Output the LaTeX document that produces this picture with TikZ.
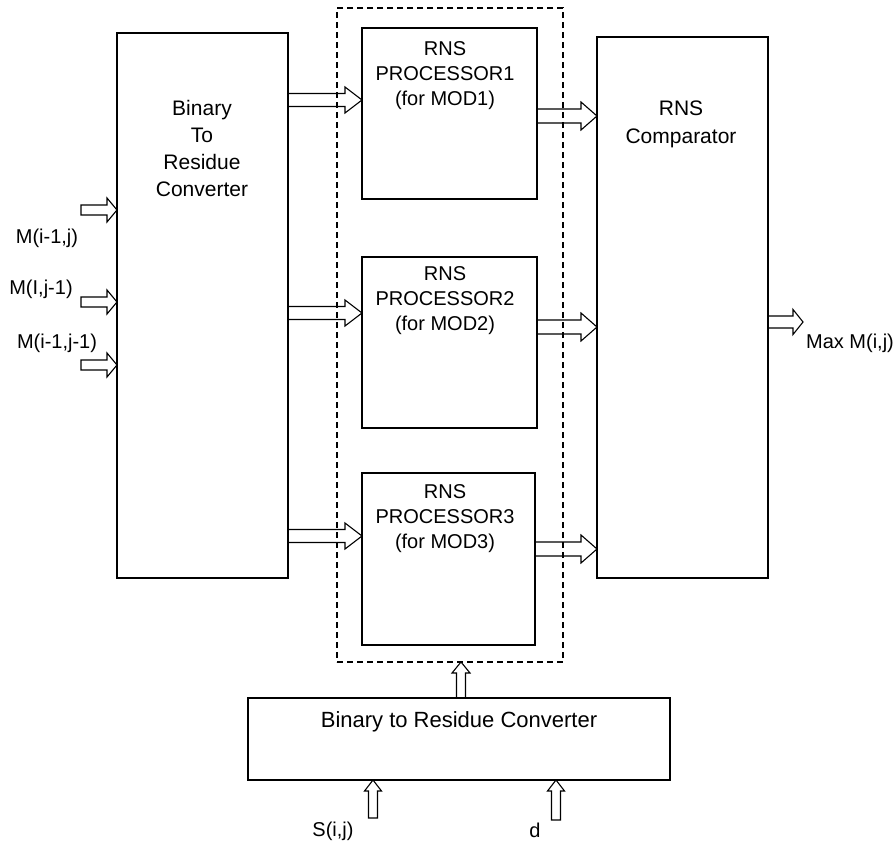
\documentclass[tikz,border=0pt]{standalone}
\usepackage{fontspec}
\setmainfont{Liberation Sans}
\usetikzlibrary{calc}
\newcommand\harr[5]{% start, end, shaft half, head half, head length
  \draw[fat] let \p1=(#1), \p2=(#2) in
    (\x1,\y1+#3) -- (\x2-#5,\y1+#3) -- (\x2-#5,\y1+#4) -- (\x2,\y1)
    -- (\x2-#5,\y1-#4) -- (\x2-#5,\y1-#3) -- (\x1,\y1-#3) -- cycle;}
\newcommand\varr[5]{% start (bottom), end (top), shaft half, head half, head length
  \draw[fat] let \p1=(#1), \p2=(#2) in
    (\x1-#3,\y1) -- (\x1-#3,\y2-#5) -- (\x1-#4,\y2-#5) -- (\x1,\y2)
    -- (\x1+#4,\y2-#5) -- (\x1+#3,\y2-#5) -- (\x1+#3,\y1) -- cycle;}
\begin{document}
\begin{tikzpicture}[x=1pt,y=-1pt,
  box/.style={draw, line width=1.3pt, inner sep=0pt, outer sep=0pt, anchor=north west},
  txt/.style={font=\fontsize{20}{25}\selectfont, align=center, inner sep=0pt, text=black},
  fat/.style={draw, line width=1.1pt, line join=miter}]
\useasboundingbox (0,0) rectangle (896,846);
% boxes
\node[box, minimum width=171pt, minimum height=545pt] (lb) at (117,33) {};
\node[box, dashed, dash pattern=on 6pt off 4pt, line width=1.2pt, minimum width=226pt, minimum height=654pt] (db) at (337,8) {};
\node[box, minimum width=175pt, minimum height=171pt] (p1) at (362,28) {};
\node[box, minimum width=175pt, minimum height=171pt] (p2) at (362,257) {};
\node[box, minimum width=173pt, minimum height=172pt] (p3) at (362,473) {};
\node[box, minimum width=171pt, minimum height=541pt] (cmp) at (597,37) {};
\node[box, minimum width=422pt, minimum height=82pt] (bb) at (248,698) {};
% texts
\node[txt, font=\fontsize{21}{27}\selectfont] (lbt) at (202,148) {Binary\\To\\Residue\\Converter};
\node[txt] (p1t) at (445,76) {RNS\\PROCESSOR1\\(for MOD1)};
\node[txt] (p2t) at (445,301) {RNS\\PROCESSOR2\\(for MOD2)};
\node[txt] (p3t) at (445,519) {RNS\\PROCESSOR3\\(for MOD3)};
\node[txt, font=\fontsize{21}{28}\selectfont] (cmpt) at (681,124) {RNS\\Comparator};
\node[txt, font=\fontsize{22}{27}\selectfont] (bbt) at (459,722) {Binary to Residue Converter};
\node[txt] (l1) at (47,238) {M(i-1,j)};
\node[txt] (l2) at (41,289) {M(I,j-1)};
\node[txt] (l3) at (57,343) {M(i-1,j-1)};
\node[txt] (lo) at (850,343) {Max M(i,j)};
\node[txt] (ls) at (333,831) {S(i,j)};
\node[txt] (ld) at (535,830) {d};
% free ends
\coordinate (m1) at (81,210);
\coordinate (m2) at (81,302);
\coordinate (m3) at (81,365);
\coordinate (out) at (803,322);
\coordinate (sin) at (373,818);
\coordinate (din) at (556,820);
% converter -> processors
\harr{$(lb.north east)+(0,67)$}{p1.west}{6.5pt}{13pt}{17pt}
\harr{$(lb.north east)+(0,280)$}{p2.west}{6.5pt}{13pt}{17pt}
\harr{$(lb.north east)+(0,503)$}{p3.west}{6.5pt}{13pt}{17pt}
% processors -> comparator
\harr{$(p1.north east)+(0,88)$}{cmp.west}{7pt}{14pt}{16pt}
\harr{$(p2.north east)+(0,70)$}{cmp.west}{7pt}{14pt}{16pt}
\harr{$(p3.north east)+(0,76)$}{cmp.west}{7pt}{14pt}{16pt}
% inputs
\harr{m1}{lb.west}{5pt}{12pt}{10pt}
\harr{m2}{lb.west}{5pt}{12pt}{10pt}
\harr{m3}{lb.west}{5pt}{12pt}{10pt}
% output
\harr{$(cmp.north east)+(0,285)$}{out}{6pt}{12.5pt}{10pt}
% bottom
\varr{$(bb.north west)+(213,0)$}{db.south}{4.5pt}{9pt}{11pt}
\varr{sin}{bb.south}{4.5pt}{8.5pt}{11pt}
\varr{din}{bb.south}{4.5pt}{8.5pt}{11pt}
\end{tikzpicture}
\end{document}
